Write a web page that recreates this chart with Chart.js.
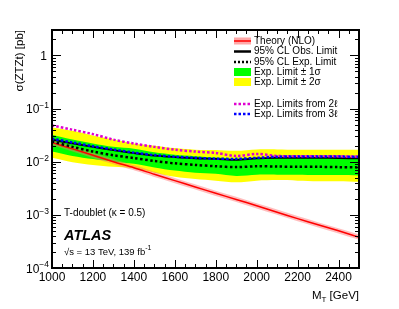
<!DOCTYPE html>
<html>
<head>
<meta charset="utf-8">
<script src="https://cdn.jsdelivr.net/npm/chart.js@4.4.1/dist/chart.umd.min.js"></script>
<style>
  html, body { margin: 0; padding: 0; background: #fff; }
  #wrap { width: 399px; height: 309px; }
</style>
</head>
<body>
<div id="wrap"><canvas id="limitChart" width="399" height="309"></canvas></div>
<script>
// T mass points [GeV]
const massPoints = [1000, 1100, 1200, 1300, 1400, 1500, 1600, 1700, 1800, 1900, 2000, 2100, 2200, 2300, 2400, 2500];

// cross sections [pb]
const theoryNLO = [0.0229, 0.0174, 0.0132, 0.0100, 0.0077, 0.0058, 0.0044, 0.00335, 0.00254, 0.00195, 0.00148, 0.00112, 0.00085, 0.00065, 0.00050, 0.00038];
const obsLimit = [0.026, 0.022, 0.019, 0.0165, 0.0145, 0.0130, 0.0122, 0.0116, 0.0113, 0.0108, 0.0115, 0.0118, 0.0118, 0.0118, 0.0117, 0.0115];
const expLimit = [0.024, 0.019, 0.0155, 0.0132, 0.0117, 0.0103, 0.0093, 0.0087, 0.0082, 0.0079, 0.0082, 0.0081, 0.0080, 0.0080, 0.0079, 0.0078];
const expPlus1 = [0.032, 0.026, 0.022, 0.019, 0.0175, 0.0150, 0.0135, 0.0127, 0.0120, 0.0115, 0.0120, 0.0118, 0.0117, 0.0117, 0.0116, 0.0115];
const expMinus1 = [0.0155, 0.0128, 0.0112, 0.0100, 0.0091, 0.0078, 0.0068, 0.0062, 0.0059, 0.0054, 0.0057, 0.0057, 0.0057, 0.0056, 0.0056, 0.0055];
const expPlus2 = [0.044, 0.038, 0.031, 0.026, 0.022, 0.020, 0.018, 0.0168, 0.0165, 0.0160, 0.0170, 0.0170, 0.0168, 0.0168, 0.0168, 0.0168];
const expMinus2 = [0.0119, 0.0098, 0.0087, 0.0080, 0.0075, 0.0062, 0.0052, 0.0047, 0.0044, 0.0041, 0.0044, 0.0045, 0.0044, 0.0043, 0.0043, 0.0042];
const exp2l = [0.048, 0.040, 0.033, 0.026, 0.022, 0.019, 0.0168, 0.0155, 0.0146, 0.0128, 0.0140, 0.0128, 0.0127, 0.0127, 0.0126, 0.0125];
const exp3l = [0.027, 0.023, 0.0195, 0.0170, 0.0148, 0.0133, 0.0124, 0.0118, 0.0114, 0.0113, 0.0118, 0.0124, 0.0125, 0.0125, 0.0125, 0.0123];

// axis ticks
const xMajorTicks = [1000, 1200, 1400, 1600, 1800, 2000, 2200, 2400];
const yDecades = [-4, -3, -2, -1, 0];

const FONT = "'Liberation Sans', Arial, Helvetica, sans-serif";

function pts(values) {
    return values.map((v, i) => ({ x: massPoints[i], y: v }));
}

function lineSet(label, values, color, width, dash, order) {
    return {
        label: label,
        data: pts(values),
        borderColor: color,
        borderWidth: width,
        borderDash: dash || [],
        borderCapStyle: 'butt',
        pointRadius: 0,
        fill: false,
        tension: 0.3,
        order: order
    };
}

// draws ROOT-like frame, ticks, labels, legend and captions
const rootStyle = {
    id: 'rootStyle',
    afterDatasetsDraw(chart) {
        const ctx = chart.ctx;
        const area = chart.chartArea;
        const xs = chart.scales.x;
        const ys = chart.scales.y;
        ctx.save();
        ctx.strokeStyle = '#000';
        ctx.fillStyle = '#000';

        // ticks
        ctx.lineWidth = 1;
        ctx.beginPath();
        for (let m = 1000; m <= 2500; m += 50) {
            const px = Math.round(xs.getPixelForValue(m)) + 0.5;
            const len = (m % 200 === 0) ? 8 : 4;
            ctx.moveTo(px, area.bottom); ctx.lineTo(px, area.bottom - len);
            ctx.moveTo(px, area.top); ctx.lineTo(px, area.top + len);
        }
        yDecades.forEach(d => {
            for (let k = 1; k <= 9; k++) {
                const v = k * Math.pow(10, d);
                if (v > ys.max) break;
                const py = Math.round(ys.getPixelForValue(v)) + 0.5;
                const len = (k === 1) ? 9 : 4;
                ctx.moveTo(area.left, py); ctx.lineTo(area.left + len, py);
                ctx.moveTo(area.right, py); ctx.lineTo(area.right - len, py);
            }
        });
        ctx.stroke();

        // frame
        ctx.lineWidth = 2;
        ctx.strokeRect(area.left, area.top, area.right - area.left, area.bottom - area.top);

        // x tick labels
        ctx.font = '12px ' + FONT;
        ctx.textAlign = 'center';
        ctx.textBaseline = 'alphabetic';
        xMajorTicks.forEach(m => {
            ctx.fillText(String(m), xs.getPixelForValue(m), 281);
        });

        // y tick labels with superscripts
        yDecades.forEach(d => {
            const py = ys.getPixelForValue(Math.pow(10, d));
            ctx.textAlign = 'right';
            if (d === 0) {
                ctx.font = '12px ' + FONT;
                ctx.fillText('1', 47, py + 4.5);
            } else {
                const sup = '\u2212' + String(-d);
                ctx.font = '8.5px ' + FONT;
                const sw = ctx.measureText(sup).width;
                ctx.fillText(sup, 49, py - 1);
                ctx.font = '12px ' + FONT;
                ctx.fillText('10', 49 - sw, py + 4.5);
            }
        });

        // axis titles
        ctx.font = '11.5px ' + FONT;
        ctx.textAlign = 'right';
        ctx.fillText('[GeV]', 359, 299);
        const gw = ctx.measureText(' [GeV]').width;
        ctx.font = '8px ' + FONT;
        ctx.fillText('T', 359 - gw, 302);
        const tw = ctx.measureText('T').width;
        ctx.font = '11.5px ' + FONT;
        ctx.fillText('M', 359 - gw - tw, 299);

        ctx.save();
        ctx.translate(23, 30);
        ctx.rotate(-Math.PI / 2);
        ctx.textAlign = 'right';
        ctx.fillText('\u03c3(ZTZt) [pb]', 0, 0);
        ctx.restore();

        // captions
        ctx.textAlign = 'left';
        ctx.textBaseline = 'middle';
        ctx.font = '10px ' + FONT;
        ctx.fillText('T-doublet (\u03ba = 0.5)', 64, 213);
        ctx.font = 'italic bold 14.5px ' + FONT;
        ctx.fillText('ATLAS', 64, 236);
        ctx.font = '9.5px ' + FONT;
        const ecm = '\u221as = 13 TeV, 139 fb';
        ctx.fillText(ecm, 64, 252);
        const ew = ctx.measureText(ecm).width;
        ctx.font = '7px ' + FONT;
        ctx.fillText('-1', 64 + ew, 248);

        // legend
        const sx0 = 234, sx1 = 251, tx = 254;
        ctx.font = '10px ' + FONT;
        const rows = [
            { y: 41, text: 'Theory (NLO)', kind: 'theory' },
            { y: 51.5, text: '95% CL Obs. Limit', kind: 'line', color: '#000', dash: [] },
            { y: 62, text: '95% CL Exp. Limit', kind: 'line', color: '#000', dash: [2, 2] },
            { y: 72, text: 'Exp. Limit \u00b1 1\u03c3', kind: 'box', color: '#00ff00' },
            { y: 82, text: 'Exp. Limit \u00b1 2\u03c3', kind: 'box', color: '#ffff00' },
            { y: 104, text: 'Exp. Limits from 2\u2113', kind: 'line', color: '#e000d0', dash: [2.5, 2] },
            { y: 114, text: 'Exp. Limits from 3\u2113', kind: 'line', color: '#0000ff', dash: [2.5, 2] }
        ];
        rows.forEach(r => {
            if (r.kind === 'theory') {
                ctx.fillStyle = 'rgba(255,110,110,0.6)';
                ctx.fillRect(sx0, r.y - 3.5, sx1 - sx0, 7);
                ctx.fillStyle = '#ff0000';
                ctx.fillRect(sx0, r.y - 0.75, sx1 - sx0, 1.5);
            } else if (r.kind === 'box') {
                ctx.fillStyle = r.color;
                ctx.fillRect(sx0, r.y - 4, sx1 - sx0, 8);
            } else {
                ctx.strokeStyle = r.color;
                ctx.lineWidth = 2.5;
                ctx.setLineDash(r.dash);
                ctx.beginPath();
                ctx.moveTo(sx0, r.y); ctx.lineTo(sx1, r.y);
                ctx.stroke();
                ctx.setLineDash([]);
            }
            ctx.fillStyle = '#000';
            ctx.fillText(r.text, tx, r.y);
        });

        ctx.restore();
    }
};

new Chart(document.getElementById('limitChart'), {
    type: 'line',
    data: {
        datasets: [
            Object.assign(lineSet('+2 sigma', expPlus2, 'rgba(0,0,0,0)', 0, null, 20), { fill: '+1', backgroundColor: '#ffff00' }),
            lineSet('-2 sigma', expMinus2, 'rgba(0,0,0,0)', 0, null, 20),
            Object.assign(lineSet('+1 sigma', expPlus1, 'rgba(0,0,0,0)', 0, null, 15), { fill: '+1', backgroundColor: '#00ff00' }),
            lineSet('-1 sigma', expMinus1, 'rgba(0,0,0,0)', 0, null, 15),
            lineSet('Theory band', theoryNLO, 'rgba(255,110,110,0.45)', 5, null, 8),
            lineSet('Theory (NLO)', theoryNLO, '#ff0000', 1.5, null, 7),
            lineSet('95% CL Exp. Limit', expLimit, '#000000', 2.5, [2.5, 2.5], 6),
            lineSet('95% CL Obs. Limit', obsLimit, '#000000', 1.8, null, 5),
            lineSet('Exp. Limits from 2l', exp2l, '#e000d0', 2.5, [2.5, 2], 4),
            lineSet('Exp. Limits from 3l', exp3l, '#0000ff', 2.5, [2.5, 2], 3)
        ]
    },
    options: {
        responsive: false,
        animation: false,
        layout: { padding: { left: 52, top: 30, right: 40, bottom: 41 } },
        scales: {
            x: { type: 'linear', min: 1000, max: 2500, display: false },
            y: { type: 'logarithmic', min: 1e-4, max: 3, display: false }
        },
        plugins: {
            legend: { display: false },
            tooltip: { enabled: false }
        }
    },
    plugins: [rootStyle]
});
</script>
</body>
</html>
